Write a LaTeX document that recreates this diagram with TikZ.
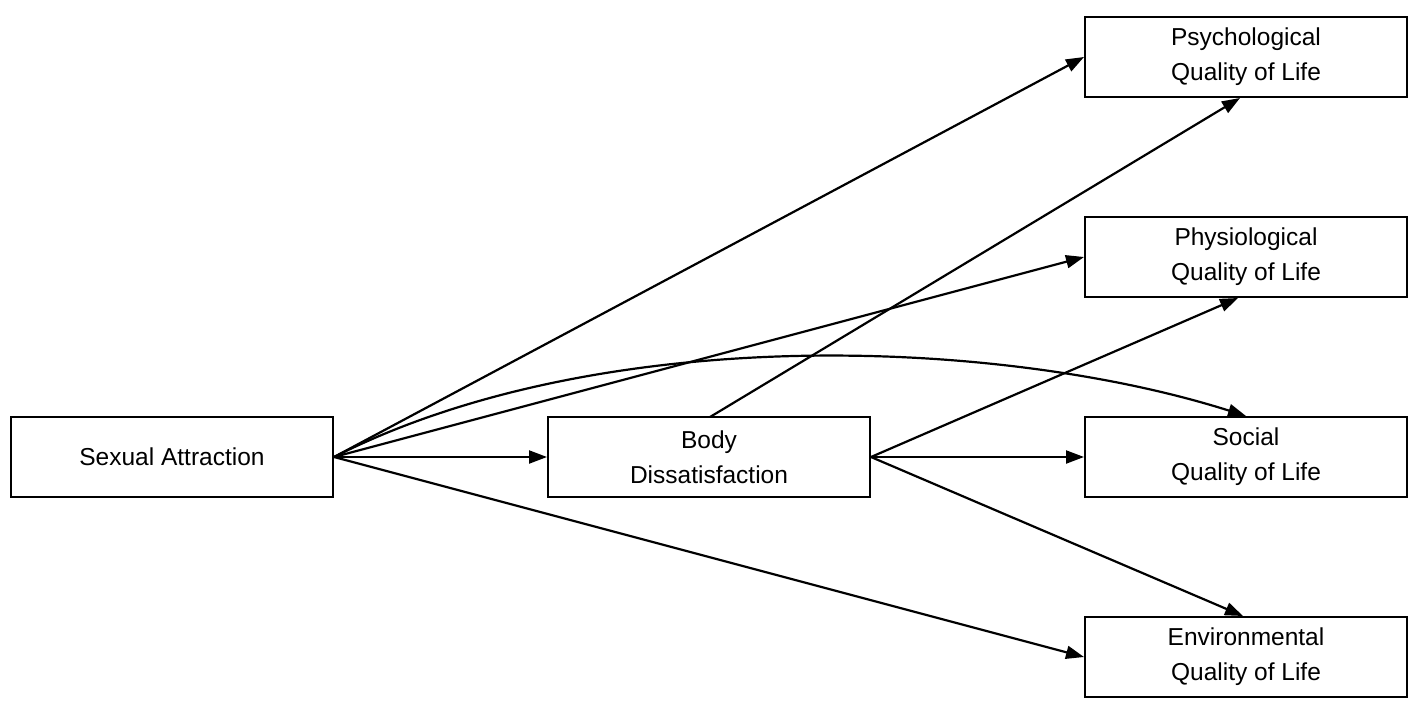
\documentclass[tikz,border=0pt]{standalone}
\usepackage{fontspec}
\setmainfont{Liberation Sans}
\usetikzlibrary{arrows.meta}
\begin{document}
\begin{tikzpicture}[x=1pt,y=-1pt,
  box/.style={draw,line width=2pt,minimum width=322pt,minimum height=80pt,inner sep=0pt,align=center,font=\fontsize{24.5pt}{35pt}\selectfont},
  conn/.style={line width=2.2pt,-{Triangle[length=18pt,width=13pt]}}]
\useasboundingbox (0,0) rectangle (1417,710);
\node[box] (sa) at (172,457) {Sexual Attraction};
\node[box] (bd) at (709,457) {Body\\Dissatisfaction};
\node[box] (psy) at (1246,57) {Psychological\\Quality of Life};
\node[box] (phy) at (1246,257) {Physiological\\Quality of Life};
\node[box] (soc) at (1246,457) {Social\\Quality of Life};
\node[box] (env) at (1246,657) {Environmental\\Quality of Life};
\coordinate (bdtop) at (710,417);
\draw[conn] (sa.east) -- (psy.west);
\draw[conn] (sa.east) -- (phy.west);
\draw[conn] (sa.east) .. controls (600,322) and (1000,338) .. (soc.north);
\draw[conn] (sa.east) -- (bd.west);
\draw[conn] (sa.east) -- (env.west);
\draw[conn] (bdtop) -- ([xshift=-6pt]psy.south);
\draw[conn] (bd.east) -- ([xshift=-8pt]phy.south);
\draw[conn] (bd.east) -- (soc.west);
\draw[conn] (bd.east) -- ([xshift=-3pt]env.north);
\end{tikzpicture}
\end{document}
